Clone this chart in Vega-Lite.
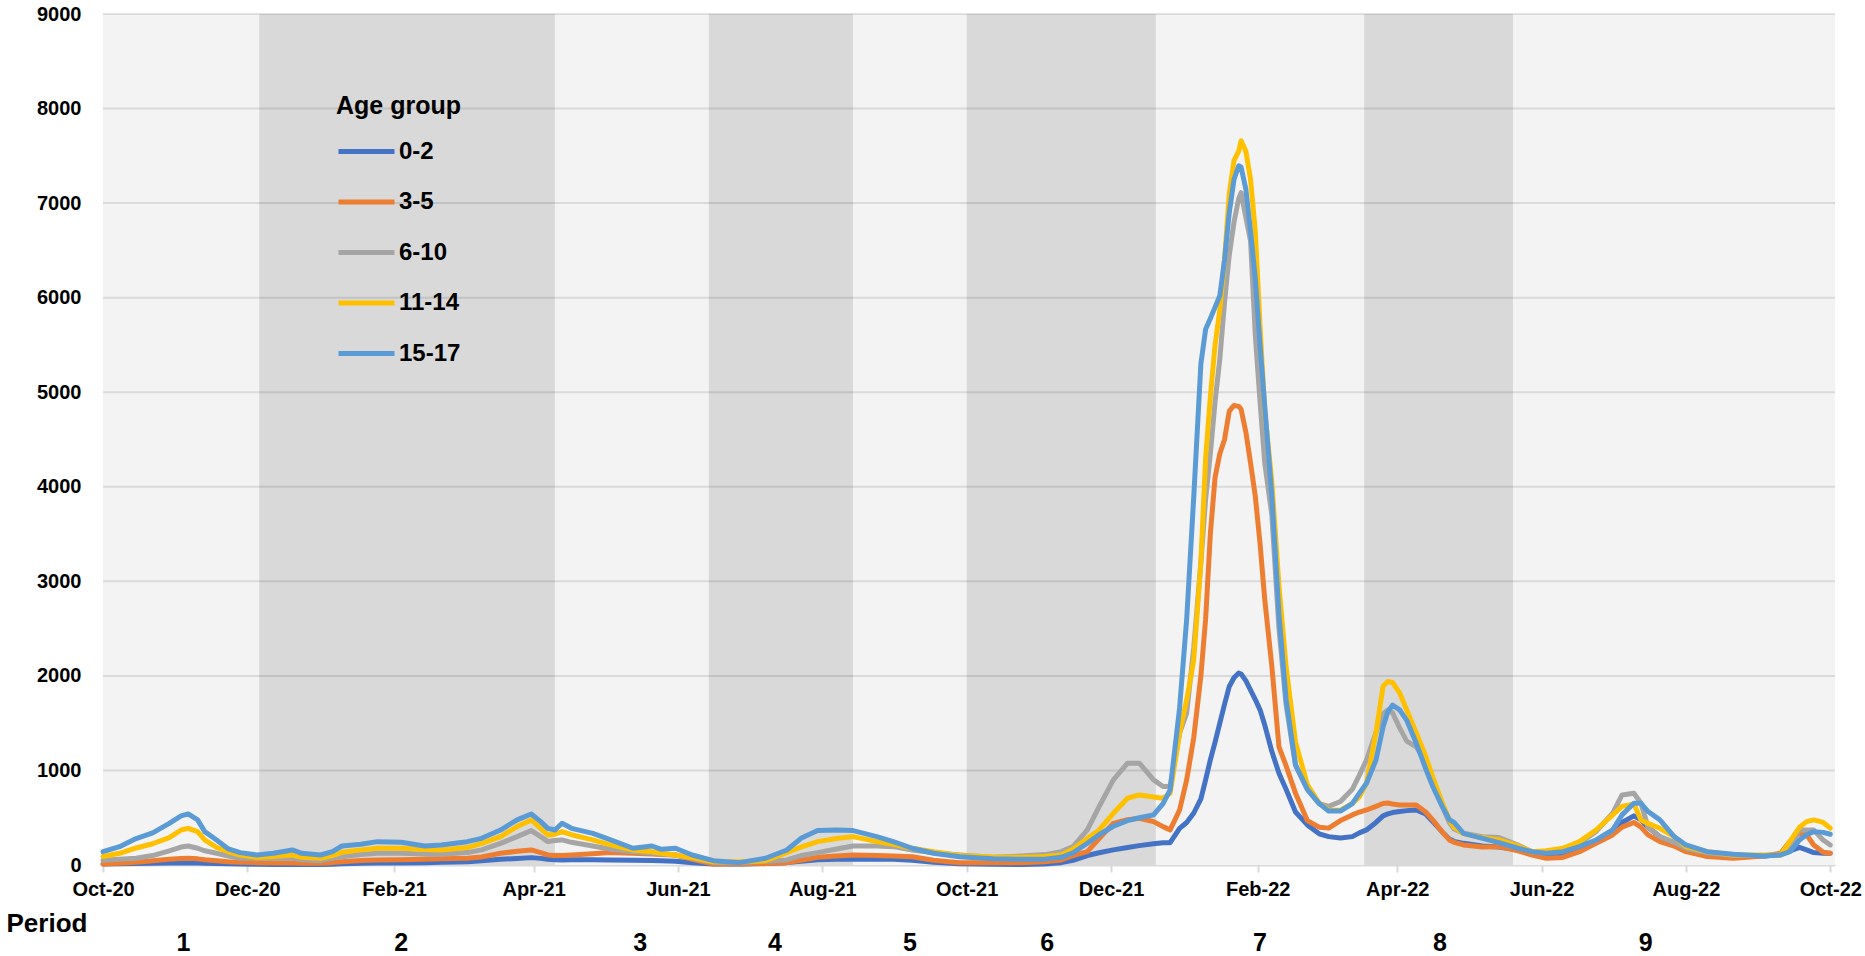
{
  "$schema": "https://vega.github.io/schema/vega-lite/v6.json",
  "width": 1732,
  "height": 851,
  "autosize": {"type": "none"},
  "padding": {"left": 103, "top": 14, "right": 30, "bottom": 91},
  "background": "#ffffff",
  "config": {"view": {"stroke": null}},
  "datasets": {
    "bands": [
      {"s": "2020-10-01", "e": "2020-12-06", "k": "light"},
      {"s": "2020-12-06", "e": "2021-04-10", "k": "dark"},
      {"s": "2021-04-10", "e": "2021-06-14", "k": "light"},
      {"s": "2021-06-14", "e": "2021-08-14", "k": "dark"},
      {"s": "2021-08-14", "e": "2021-10-01", "k": "light"},
      {"s": "2021-10-01", "e": "2021-12-20", "k": "dark"},
      {"s": "2021-12-20", "e": "2022-03-18", "k": "light"},
      {"s": "2022-03-18", "e": "2022-05-20", "k": "dark"},
      {"s": "2022-05-20", "e": "2022-10-03", "k": "light"}
    ],
    "grid": [{"g": 1000}, {"g": 2000}, {"g": 3000}, {"g": 4000}, {"g": 5000}, {"g": 6000}, {"g": 7000}, {"g": 8000}, {"g": 9000}],
    "periods": [
      {"p": "1", "d": "2020-11-04"},
      {"p": "2", "d": "2021-02-04"},
      {"p": "3", "d": "2021-05-16"},
      {"p": "4", "d": "2021-07-12"},
      {"p": "5", "d": "2021-09-07"},
      {"p": "6", "d": "2021-11-04"},
      {"p": "7", "d": "2022-02-02"},
      {"p": "8", "d": "2022-04-19"},
      {"p": "9", "d": "2022-07-15"}
    ],
    "series": [
      {"d": "2020-10-01", "0-2": 10, "3-5": 10, "6-10": 50, "11-14": 90, "15-17": 141},
      {"d": "2020-10-08", "0-2": 12, "3-5": 18, "6-10": 60, "11-14": 124, "15-17": 194},
      {"d": "2020-10-15", "0-2": 15, "3-5": 30, "6-10": 71, "11-14": 180, "15-17": 280},
      {"d": "2020-10-22", "0-2": 18, "3-5": 45, "6-10": 100, "11-14": 225, "15-17": 340},
      {"d": "2020-10-29", "0-2": 20, "3-5": 60, "6-10": 150, "11-14": 290, "15-17": 440},
      {"d": "2020-11-03", "0-2": 22, "3-5": 68, "6-10": 190, "11-14": 370, "15-17": 520},
      {"d": "2020-11-06", "0-2": 22, "3-5": 71, "6-10": 201, "11-14": 388, "15-17": 540},
      {"d": "2020-11-10", "0-2": 20, "3-5": 65, "6-10": 177, "11-14": 353, "15-17": 477},
      {"d": "2020-11-13", "0-2": 18, "3-5": 55, "6-10": 150, "11-14": 265, "15-17": 353},
      {"d": "2020-11-18", "0-2": 15, "3-5": 46, "6-10": 124, "11-14": 187, "15-17": 265},
      {"d": "2020-11-23", "0-2": 12, "3-5": 35, "6-10": 95, "11-14": 140, "15-17": 170},
      {"d": "2020-11-28", "0-2": 10, "3-5": 30, "6-10": 71, "11-14": 106, "15-17": 131},
      {"d": "2020-12-05", "0-2": 8, "3-5": 25, "6-10": 71, "11-14": 81, "15-17": 106},
      {"d": "2020-12-12", "0-2": 6, "3-5": 22, "6-10": 71, "11-14": 90, "15-17": 124},
      {"d": "2020-12-20", "0-2": 5, "3-5": 20, "6-10": 71, "11-14": 106, "15-17": 159},
      {"d": "2020-12-24", "0-2": 5, "3-5": 18, "6-10": 55, "11-14": 81, "15-17": 124},
      {"d": "2021-01-01", "0-2": 5, "3-5": 18, "6-10": 46, "11-14": 71, "15-17": 106},
      {"d": "2021-01-06", "0-2": 8, "3-5": 25, "6-10": 70, "11-14": 100, "15-17": 141},
      {"d": "2021-01-10", "0-2": 12, "3-5": 35, "6-10": 88, "11-14": 134, "15-17": 201},
      {"d": "2021-01-18", "0-2": 18, "3-5": 48, "6-10": 110, "11-14": 160, "15-17": 219},
      {"d": "2021-01-25", "0-2": 20, "3-5": 53, "6-10": 124, "11-14": 177, "15-17": 247},
      {"d": "2021-02-04", "0-2": 22, "3-5": 55, "6-10": 124, "11-14": 177, "15-17": 240},
      {"d": "2021-02-14", "0-2": 25, "3-5": 60, "6-10": 115, "11-14": 165, "15-17": 201},
      {"d": "2021-02-21", "0-2": 28, "3-5": 65, "6-10": 113, "11-14": 159, "15-17": 212},
      {"d": "2021-03-04", "0-2": 35, "3-5": 71, "6-10": 131, "11-14": 184, "15-17": 247},
      {"d": "2021-03-10", "0-2": 45, "3-5": 85, "6-10": 160, "11-14": 229, "15-17": 282},
      {"d": "2021-03-18", "0-2": 60, "3-5": 124, "6-10": 229, "11-14": 300, "15-17": 370},
      {"d": "2021-03-25", "0-2": 70, "3-5": 145, "6-10": 300, "11-14": 406, "15-17": 477},
      {"d": "2021-03-31", "0-2": 78, "3-5": 159, "6-10": 364, "11-14": 477, "15-17": 540},
      {"d": "2021-04-04", "0-2": 70, "3-5": 130, "6-10": 300, "11-14": 388, "15-17": 459},
      {"d": "2021-04-07", "0-2": 60, "3-5": 106, "6-10": 247, "11-14": 318, "15-17": 388},
      {"d": "2021-04-10", "0-2": 55, "3-5": 100, "6-10": 260, "11-14": 325, "15-17": 370},
      {"d": "2021-04-13", "0-2": 53, "3-5": 100, "6-10": 265, "11-14": 353, "15-17": 441},
      {"d": "2021-04-17", "0-2": 55, "3-5": 105, "6-10": 240, "11-14": 320, "15-17": 388},
      {"d": "2021-04-26", "0-2": 55, "3-5": 120, "6-10": 201, "11-14": 265, "15-17": 335},
      {"d": "2021-05-03", "0-2": 53, "3-5": 131, "6-10": 170, "11-14": 215, "15-17": 272},
      {"d": "2021-05-13", "0-2": 50, "3-5": 125, "6-10": 141, "11-14": 159, "15-17": 177},
      {"d": "2021-05-21", "0-2": 48, "3-5": 115, "6-10": 125, "11-14": 140, "15-17": 201},
      {"d": "2021-05-25", "0-2": 46, "3-5": 110, "6-10": 115, "11-14": 125, "15-17": 166},
      {"d": "2021-05-31", "0-2": 40, "3-5": 106, "6-10": 106, "11-14": 106, "15-17": 177},
      {"d": "2021-06-07", "0-2": 25, "3-5": 60, "6-10": 70, "11-14": 80, "15-17": 106},
      {"d": "2021-06-16", "0-2": 10, "3-5": 10, "6-10": 25, "11-14": 35, "15-17": 46},
      {"d": "2021-06-27", "0-2": 10, "3-5": 10, "6-10": 25, "11-14": 35, "15-17": 25},
      {"d": "2021-07-08", "0-2": 15, "3-5": 15, "6-10": 40, "11-14": 46, "15-17": 71},
      {"d": "2021-07-17", "0-2": 25, "3-5": 25, "6-10": 53, "11-14": 131, "15-17": 159},
      {"d": "2021-07-23", "0-2": 40, "3-5": 50, "6-10": 100, "11-14": 190, "15-17": 282},
      {"d": "2021-07-30", "0-2": 55, "3-5": 81, "6-10": 131, "11-14": 247, "15-17": 364},
      {"d": "2021-08-07", "0-2": 60, "3-5": 95, "6-10": 170, "11-14": 280, "15-17": 370},
      {"d": "2021-08-14", "0-2": 62, "3-5": 106, "6-10": 201, "11-14": 300, "15-17": 364},
      {"d": "2021-08-24", "0-2": 60, "3-5": 100, "6-10": 200, "11-14": 247, "15-17": 300},
      {"d": "2021-08-31", "0-2": 60, "3-5": 95, "6-10": 194, "11-14": 220, "15-17": 247},
      {"d": "2021-09-08", "0-2": 50, "3-5": 88, "6-10": 159, "11-14": 177, "15-17": 177},
      {"d": "2021-09-17", "0-2": 30, "3-5": 50, "6-10": 130, "11-14": 140, "15-17": 124},
      {"d": "2021-09-28", "0-2": 12, "3-5": 25, "6-10": 106, "11-14": 100, "15-17": 88},
      {"d": "2021-10-12", "0-2": 8, "3-5": 25, "6-10": 81, "11-14": 85, "15-17": 65},
      {"d": "2021-10-24", "0-2": 5, "3-5": 25, "6-10": 95, "11-14": 81, "15-17": 60},
      {"d": "2021-11-03", "0-2": 10, "3-5": 35, "6-10": 110, "11-14": 90, "15-17": 62},
      {"d": "2021-11-10", "0-2": 25, "3-5": 53, "6-10": 141, "11-14": 106, "15-17": 81},
      {"d": "2021-11-15", "0-2": 50, "3-5": 100, "6-10": 194, "11-14": 170, "15-17": 130},
      {"d": "2021-11-21", "0-2": 100, "3-5": 141, "6-10": 371, "11-14": 280, "15-17": 230},
      {"d": "2021-11-26", "0-2": 130, "3-5": 280, "6-10": 618, "11-14": 371, "15-17": 320},
      {"d": "2021-12-02", "0-2": 160, "3-5": 441, "6-10": 900, "11-14": 547, "15-17": 410},
      {"d": "2021-12-08", "0-2": 185, "3-5": 480, "6-10": 1077, "11-14": 706, "15-17": 470},
      {"d": "2021-12-13", "0-2": 205, "3-5": 494, "6-10": 1077, "11-14": 741, "15-17": 500},
      {"d": "2021-12-19", "0-2": 225, "3-5": 459, "6-10": 900, "11-14": 720, "15-17": 530},
      {"d": "2021-12-23", "0-2": 235, "3-5": 406, "6-10": 830, "11-14": 706, "15-17": 650},
      {"d": "2021-12-26", "0-2": 236, "3-5": 371, "6-10": 830, "11-14": 759, "15-17": 794},
      {"d": "2021-12-30", "0-2": 388, "3-5": 582, "6-10": 1394, "11-14": 1394, "15-17": 1660},
      {"d": "2022-01-02", "0-2": 450, "3-5": 900, "6-10": 1606, "11-14": 1747, "15-17": 2600},
      {"d": "2022-01-05", "0-2": 550, "3-5": 1350, "6-10": 2300, "11-14": 2171, "15-17": 3900},
      {"d": "2022-01-08", "0-2": 700, "3-5": 2000, "6-10": 3200, "11-14": 3200, "15-17": 5300},
      {"d": "2022-01-10", "0-2": 900, "3-5": 2600, "6-10": 3865, "11-14": 4300, "15-17": 5665},
      {"d": "2022-01-12", "0-2": 1112, "3-5": 3500, "6-10": 4350, "11-14": 4950, "15-17": 5780},
      {"d": "2022-01-14", "0-2": 1300, "3-5": 4100, "6-10": 4900, "11-14": 5500, "15-17": 5900},
      {"d": "2022-01-16", "0-2": 1500, "3-5": 4350, "6-10": 5350, "11-14": 5870, "15-17": 6020},
      {"d": "2022-01-18", "0-2": 1700, "3-5": 4500, "6-10": 5950, "11-14": 6400, "15-17": 6400},
      {"d": "2022-01-20", "0-2": 1888, "3-5": 4800, "6-10": 6450, "11-14": 7100, "15-17": 6900},
      {"d": "2022-01-22", "0-2": 1980, "3-5": 4860, "6-10": 6800, "11-14": 7450, "15-17": 7250},
      {"d": "2022-01-24", "0-2": 2030, "3-5": 4850, "6-10": 7050, "11-14": 7550, "15-17": 7395},
      {"d": "2022-01-25", "0-2": 2020, "3-5": 4820, "6-10": 7110, "11-14": 7660, "15-17": 7380},
      {"d": "2022-01-27", "0-2": 1950, "3-5": 4580, "6-10": 6850, "11-14": 7550, "15-17": 7150},
      {"d": "2022-01-29", "0-2": 1850, "3-5": 4250, "6-10": 6600, "11-14": 7250, "15-17": 6700},
      {"d": "2022-01-31", "0-2": 1750, "3-5": 3900, "6-10": 5600, "11-14": 6700, "15-17": 6200},
      {"d": "2022-02-02", "0-2": 1641, "3-5": 3400, "6-10": 4900, "11-14": 5700, "15-17": 5500},
      {"d": "2022-02-04", "0-2": 1480, "3-5": 2806, "6-10": 4250, "11-14": 4800, "15-17": 4850},
      {"d": "2022-02-07", "0-2": 1200, "3-5": 2100, "6-10": 3700, "11-14": 4050, "15-17": 3900},
      {"d": "2022-02-10", "0-2": 971, "3-5": 1250, "6-10": 2500, "11-14": 2950, "15-17": 2650},
      {"d": "2022-02-13", "0-2": 800, "3-5": 1050, "6-10": 1700, "11-14": 2100, "15-17": 1750},
      {"d": "2022-02-17", "0-2": 560, "3-5": 760, "6-10": 1050, "11-14": 1300, "15-17": 1060},
      {"d": "2022-02-22", "0-2": 424, "3-5": 470, "6-10": 800, "11-14": 850, "15-17": 800},
      {"d": "2022-02-27", "0-2": 330, "3-5": 400, "6-10": 650, "11-14": 655, "15-17": 650},
      {"d": "2022-03-03", "0-2": 300, "3-5": 390, "6-10": 620, "11-14": 580, "15-17": 570},
      {"d": "2022-03-08", "0-2": 285, "3-5": 470, "6-10": 671, "11-14": 580, "15-17": 570},
      {"d": "2022-03-13", "0-2": 300, "3-5": 530, "6-10": 800, "11-14": 650, "15-17": 650},
      {"d": "2022-03-16", "0-2": 340, "3-5": 560, "6-10": 950, "11-14": 720, "15-17": 760},
      {"d": "2022-03-19", "0-2": 371, "3-5": 582, "6-10": 1112, "11-14": 865, "15-17": 865},
      {"d": "2022-03-23", "0-2": 450, "3-5": 620, "6-10": 1400, "11-14": 1400, "15-17": 1110},
      {"d": "2022-03-26", "0-2": 520, "3-5": 650, "6-10": 1600, "11-14": 1890, "15-17": 1460},
      {"d": "2022-03-28", "0-2": 540, "3-5": 655, "6-10": 1640, "11-14": 1940, "15-17": 1620},
      {"d": "2022-03-30", "0-2": 555, "3-5": 645, "6-10": 1610, "11-14": 1930, "15-17": 1690},
      {"d": "2022-04-02", "0-2": 565, "3-5": 635, "6-10": 1450, "11-14": 1820, "15-17": 1640},
      {"d": "2022-04-05", "0-2": 575, "3-5": 635, "6-10": 1310, "11-14": 1640, "15-17": 1530},
      {"d": "2022-04-09", "0-2": 582, "3-5": 635, "6-10": 1250, "11-14": 1400, "15-17": 1290},
      {"d": "2022-04-13", "0-2": 540, "3-5": 560, "6-10": 1100, "11-14": 1150, "15-17": 1020},
      {"d": "2022-04-16", "0-2": 459, "3-5": 477, "6-10": 850, "11-14": 930, "15-17": 830},
      {"d": "2022-04-20", "0-2": 350, "3-5": 350, "6-10": 620, "11-14": 660, "15-17": 620},
      {"d": "2022-04-23", "0-2": 275, "3-5": 265, "6-10": 450, "11-14": 480, "15-17": 480},
      {"d": "2022-04-25", "0-2": 250, "3-5": 240, "6-10": 380, "11-14": 400, "15-17": 450},
      {"d": "2022-04-29", "0-2": 229, "3-5": 212, "6-10": 335, "11-14": 330, "15-17": 335},
      {"d": "2022-05-07", "0-2": 200, "3-5": 190, "6-10": 300, "11-14": 290, "15-17": 282},
      {"d": "2022-05-14", "0-2": 190, "3-5": 194, "6-10": 290, "11-14": 265, "15-17": 236},
      {"d": "2022-05-22", "0-2": 160, "3-5": 150, "6-10": 210, "11-14": 201, "15-17": 177},
      {"d": "2022-05-28", "0-2": 124, "3-5": 106, "6-10": 141, "11-14": 141, "15-17": 141},
      {"d": "2022-06-03", "0-2": 110, "3-5": 71, "6-10": 145, "11-14": 150, "15-17": 124},
      {"d": "2022-06-10", "0-2": 120, "3-5": 80, "6-10": 159, "11-14": 177, "15-17": 141},
      {"d": "2022-06-17", "0-2": 159, "3-5": 141, "6-10": 230, "11-14": 247, "15-17": 194},
      {"d": "2022-06-24", "0-2": 250, "3-5": 230, "6-10": 353, "11-14": 370, "15-17": 265},
      {"d": "2022-07-01", "0-2": 353, "3-5": 318, "6-10": 547, "11-14": 530, "15-17": 370},
      {"d": "2022-07-05", "0-2": 450, "3-5": 400, "6-10": 741, "11-14": 620, "15-17": 530},
      {"d": "2022-07-10", "0-2": 520, "3-5": 450, "6-10": 759, "11-14": 645, "15-17": 653},
      {"d": "2022-07-13", "0-2": 477, "3-5": 400, "6-10": 653, "11-14": 477, "15-17": 653},
      {"d": "2022-07-16", "0-2": 400, "3-5": 318, "6-10": 400, "11-14": 440, "15-17": 565},
      {"d": "2022-07-21", "0-2": 300, "3-5": 247, "6-10": 300, "11-14": 388, "15-17": 477},
      {"d": "2022-07-27", "0-2": 220, "3-5": 200, "6-10": 240, "11-14": 300, "15-17": 300},
      {"d": "2022-08-01", "0-2": 159, "3-5": 141, "6-10": 177, "11-14": 194, "15-17": 212},
      {"d": "2022-08-10", "0-2": 120, "3-5": 90, "6-10": 130, "11-14": 140, "15-17": 141},
      {"d": "2022-08-21", "0-2": 100, "3-5": 71, "6-10": 100, "11-14": 106, "15-17": 113},
      {"d": "2022-09-03", "0-2": 95, "3-5": 95, "6-10": 100, "11-14": 106, "15-17": 95},
      {"d": "2022-09-10", "0-2": 110, "3-5": 124, "6-10": 106, "11-14": 106, "15-17": 106},
      {"d": "2022-09-14", "0-2": 150, "3-5": 250, "6-10": 200, "11-14": 250, "15-17": 141},
      {"d": "2022-09-18", "0-2": 187, "3-5": 335, "6-10": 370, "11-14": 400, "15-17": 265},
      {"d": "2022-09-21", "0-2": 160, "3-5": 320, "6-10": 370, "11-14": 459, "15-17": 320},
      {"d": "2022-09-24", "0-2": 131, "3-5": 212, "6-10": 370, "11-14": 477, "15-17": 353},
      {"d": "2022-09-28", "0-2": 125, "3-5": 134, "6-10": 265, "11-14": 450, "15-17": 345},
      {"d": "2022-10-01", "0-2": 124, "3-5": 124, "6-10": 212, "11-14": 390, "15-17": 325}
    ]
  },
  "layer": [
    {
      "data": {"name": "bands"},
      "mark": {"type": "rect"},
      "encoding": {
        "x": {"field": "s", "type": "temporal", "title": "Period",
              "scale": {"type": "utc", "domain": [{"year": 2020, "month": 10, "date": 1, "utc": true}, {"year": 2022, "month": 10, "date": 3, "utc": true}]},
              "axis": {
                "values": [
                  {"year": 2020, "month": 10, "date": 1, "utc": true},
                  {"year": 2020, "month": 12, "date": 1, "utc": true},
                  {"year": 2021, "month": 2, "date": 1, "utc": true},
                  {"year": 2021, "month": 4, "date": 1, "utc": true},
                  {"year": 2021, "month": 6, "date": 1, "utc": true},
                  {"year": 2021, "month": 8, "date": 1, "utc": true},
                  {"year": 2021, "month": 10, "date": 1, "utc": true},
                  {"year": 2021, "month": 12, "date": 1, "utc": true},
                  {"year": 2022, "month": 2, "date": 1, "utc": true},
                  {"year": 2022, "month": 4, "date": 1, "utc": true},
                  {"year": 2022, "month": 6, "date": 1, "utc": true},
                  {"year": 2022, "month": 8, "date": 1, "utc": true},
                  {"year": 2022, "month": 10, "date": 1, "utc": true}
                ],
                "format": "%b-%y",
                "grid": false,
                "labelFont": "Liberation Sans", "labelFontWeight": "bold", "labelFontSize": 20, "labelColor": "#000000",
                "labelFlush": false, "labelOverlap": false, "labelPadding": 7,
                "tickColor": "#D9D9D9", "tickSize": 7, "tickWidth": 2,
                "domainColor": "#D9D9D9", "domainWidth": 2,
                "titleFont": "Liberation Sans", "titleFontWeight": "bold", "titleFontSize": 26, "titleColor": "#000000",
                "titleAnchor": "start", "titleAlign": "left", "titleBaseline": "middle", "titleX": -97, "titleY": 58
              }},
        "x2": {"field": "e"},
        "fill": {"field": "k", "type": "nominal", "legend": null,
                 "scale": {"domain": ["light", "dark"], "range": ["#F3F3F3", "#D9D9D9"]}}
      }
    },
    {
      "data": {"name": "grid"},
      "mark": {"type": "rule", "color": "#000000", "opacity": 0.1, "strokeWidth": 2},
      "encoding": {
        "y": {"field": "g", "type": "quantitative", "title": null,
              "scale": {"domain": [0, 9000], "nice": false, "zero": true},
              "axis": {"values": [0, 1000, 2000, 3000, 4000, 5000, 6000, 7000, 8000, 9000], "title": null, "grid": false, "domain": false, "ticks": false,
                       "labelFont": "Liberation Sans", "labelFontWeight": "bold", "labelFontSize": 20, "labelColor": "#000000",
                       "labelPadding": 22, "labelFlush": false, "format": "d"}}
      }
    },
    {
      "data": {"name": "series"},
      "transform": [{"fold": ["0-2", "3-5", "6-10", "11-14", "15-17"], "as": ["group", "value"]}],
      "mark": {"type": "line", "strokeWidth": 5, "strokeJoin": "round", "strokeCap": "round"},
      "encoding": {
        "x": {"field": "d", "type": "temporal", "title": "Period"},
        "y": {"field": "value", "type": "quantitative", "title": null},
        "color": {"field": "group", "type": "nominal",
                  "scale": {"domain": ["0-2", "3-5", "6-10", "11-14", "15-17"], "range": ["#4472C4", "#ED7D31", "#A5A5A5", "#FFC000", "#5B9BD5"]},
                  "legend": {"orient": "none", "legendX": 233, "legendY": 80, "title": "Age group", "direction": "vertical",
                             "titleFont": "Liberation Sans", "titleFontSize": 25, "titleFontWeight": "bold", "titleColor": "#000000", "titlePadding": 16,
                             "labelFont": "Liberation Sans", "labelFontSize": 24, "labelFontWeight": "bold", "labelColor": "#000000",
                             "symbolType": "M-1,0H3", "symbolSize": 784, "symbolStrokeWidth": 5, "symbolFillColor": "transparent",
                             "rowPadding": 21.5, "labelOffset": 30, "padding": 0}}
      }
    },
    {
      "data": {"name": "periods"},
      "mark": {"type": "text", "font": "Liberation Sans", "fontWeight": "bold", "fontSize": 25, "baseline": "middle", "align": "center", "color": "#000000"},
      "encoding": {
        "x": {"field": "d", "type": "temporal", "title": "Period"},
        "y": {"datum": -830},
        "text": {"field": "p"}
      }
    }
  ]
}
